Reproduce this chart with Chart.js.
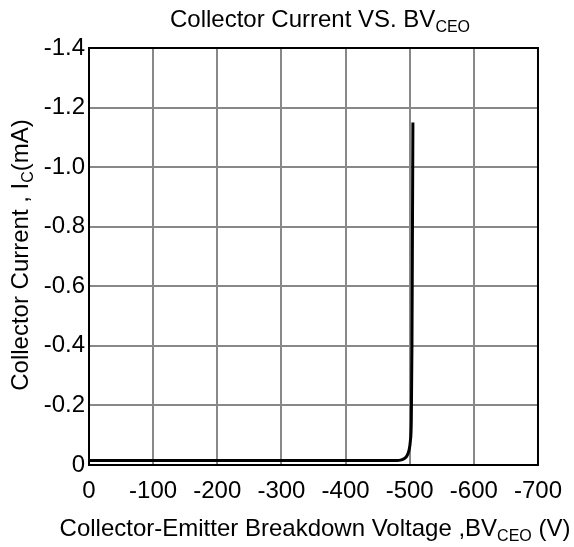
<!DOCTYPE html>
<html>
<head>
<meta charset="utf-8">
<script src="https://cdn.jsdelivr.net/npm/chart.js@4.4.1/dist/chart.umd.min.js"></script>
<style>
  html, body { margin: 0; padding: 0; background: #fff; }
  #wrap { width: 574px; height: 547px; position: relative; }
</style>
</head>
<body>
<div id="wrap"><canvas id="bvChart" width="574" height="547"></canvas></div>
<script>
// breakdown curve (V, mA)
const voltage = [0, -480, -487, -492, -496, -499, -501, -502.5, -503.5, -504.3, -505];
const current = [-0.015, -0.015, -0.017, -0.022, -0.032, -0.05, -0.08, -0.15, -0.4, -0.8, -1.15];

const xTicks = [0, -100, -200, -300, -400, -500, -600, -700];
const xTickLabels = ['0', '-100', '-200', '-300', '-400', '-500', '-600', '-700'];
const yTicks = [0, -0.2, -0.4, -0.6, -0.8, -1.0, -1.2, -1.4];
const yTickLabels = ['0', '-0.2', '-0.4', '-0.6', '-0.8', '-1.0', '-1.2', '-1.4'];

const FONT = '"Liberation Sans", Arial, sans-serif';

function labelFor(ticks, labels, v) {
    for (let i = 0; i < ticks.length; i++) {
        if (Math.abs(ticks[i] - v) < 1e-6) return labels[i];
    }
    return '';
}

// text with subscripts, drawn piece by piece
function richText(ctx, parts, size, x, y, rotate) {
    const subSize = Math.round(size * 0.68);
    let total = 0;
    parts.forEach(p => {
        ctx.font = (p.sub ? subSize : size) + 'px ' + FONT;
        total += ctx.measureText(p.t).width;
    });
    ctx.save();
    ctx.translate(x, y);
    if (rotate) ctx.rotate(-Math.PI / 2);
    ctx.fillStyle = '#000';
    ctx.textBaseline = 'alphabetic';
    ctx.textAlign = 'left';
    let cx = -total / 2;
    parts.forEach(p => {
        ctx.font = (p.sub ? subSize : size) + 'px ' + FONT;
        ctx.fillText(p.t, cx, p.sub ? size * 0.22 : 0);
        cx += ctx.measureText(p.t).width;
    });
    ctx.restore();
}

const frame = {
    id: 'frame',
    afterDraw(chart) {
        const ctx = chart.ctx;
        const a = chart.chartArea;
        ctx.save();
        ctx.strokeStyle = '#000';
        ctx.lineWidth = 2;
        ctx.strokeRect(a.left, a.top, a.right - a.left, a.bottom - a.top);
        ctx.restore();

        richText(ctx, [{t: 'Collector Current VS. BV'}, {t: 'CEO', sub: true}], 24, 320, 27);
        richText(ctx, [{t: 'Collector-Emitter Breakdown Voltage ,BV'}, {t: 'CEO', sub: true}, {t: ' (V)'}], 24, 315, 536);
        richText(ctx, [{t: 'Collector Current , I'}, {t: 'C', sub: true}, {t: '(mA)'}], 24, 28, 255, true);
    }
};

const ctx = document.getElementById('bvChart').getContext('2d');
const chart = new Chart(ctx, {
    type: 'line',
    data: {
        datasets: [{
            data: voltage.map((v, i) => ({x: v, y: current[i]})),
            borderColor: '#000',
            borderWidth: 3,
            pointRadius: 0,
            fill: false,
            cubicInterpolationMode: 'monotone'
        }]
    },
    options: {
        responsive: false,
        animation: false,
        events: [],
        layout: { padding: { left: 0, right: 35, top: 48, bottom: 0 } },
        plugins: { legend: { display: false }, title: { display: false }, tooltip: { enabled: false } },
        scales: {
            x: {
                type: 'linear',
                min: -700,
                max: 0,
                reverse: true,
                afterFit(s) { s.height = 82; },
                afterBuildTicks(s) { s.ticks = xTicks.map(v => ({value: v})); },
                grid: { color: '#888', lineWidth: 2, drawTicks: false },
                border: { color: '#000', width: 2 },
                ticks: {
                    padding: 12,
                    color: '#000',
                    font: { family: FONT, size: 24 },
                    maxRotation: 0,
                    autoSkip: false,
                    callback: v => labelFor(xTicks, xTickLabels, v)
                }
            },
            y: {
                type: 'linear',
                min: -1.4,
                max: 0,
                reverse: true,
                afterFit(s) { s.width = 89; },
                afterBuildTicks(s) { s.ticks = yTicks.map(v => ({value: v})); },
                grid: { color: '#888', lineWidth: 2, drawTicks: false },
                border: { color: '#000', width: 2 },
                ticks: {
                    padding: 4,
                    color: '#000',
                    font: { family: FONT, size: 24 },
                    autoSkip: false,
                    callback: v => labelFor(yTicks, yTickLabels, v)
                }
            }
        }
    },
    plugins: [frame]
});
</script>
</body>
</html>
